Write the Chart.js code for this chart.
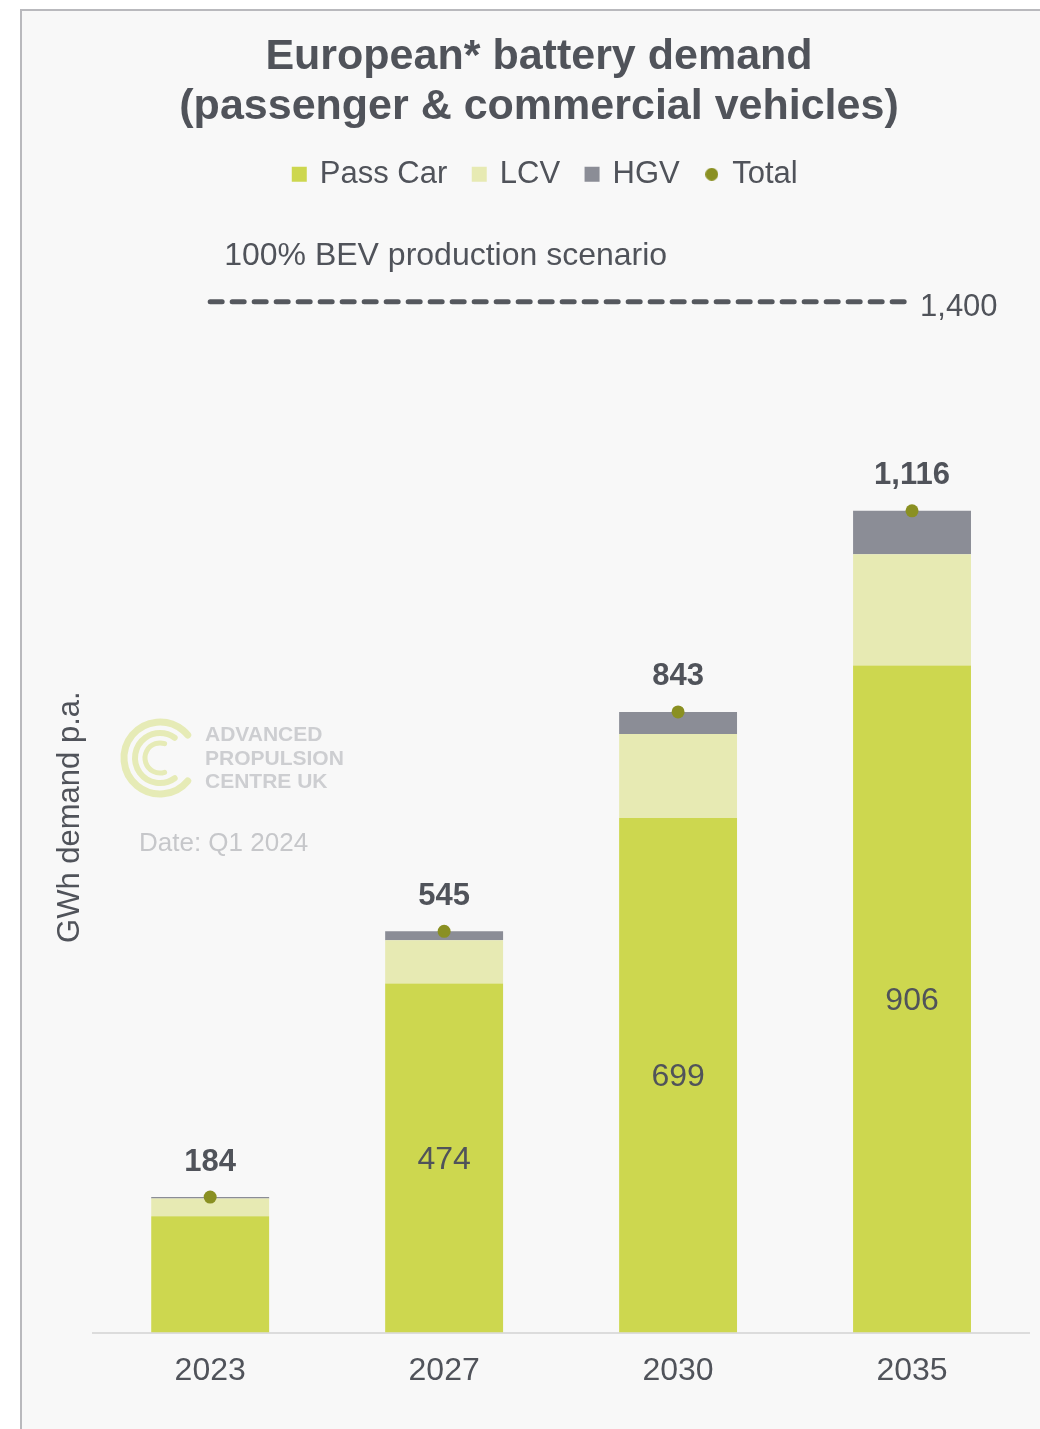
<!DOCTYPE html>
<html>
<head>
<meta charset="utf-8">
<title>European battery demand</title>
<script src="https://cdn.jsdelivr.net/npm/chart.js@4.4.1/dist/chart.umd.min.js"></script>
<style>
  html, body { margin: 0; padding: 0; background: #ffffff; }
  #frame {
    position: absolute; left: 20px; top: 9px; width: 1020px; height: 1420px;
    background: #f8f8f8; border-left: 2px solid #b9b9bd; border-top: 2px solid #b9b9bd;
    box-sizing: border-box;
  }
  #wrap { position: absolute; left: 0; top: 0; width: 1040px; height: 1429px; }
</style>
</head>
<body>
<div id="frame"></div>
<div id="wrap"><canvas id="batteryChart"></canvas></div>
<script>
// data (GWh p.a.)
const years = ['2023', '2027', '2030', '2035'];
const passCar = [158, 474, 699, 906];
const lcv = [24, 59, 114, 151];
const hgv = [2, 12, 30, 59];
const totals = [184, 545, 843, 1116];
const bevScenario = [1400, 1400, 1400, 1400];
const passCarLabels = ['', '474', '699', '906'];
const totalLabels = ['184', '545', '843', '1,116'];

const FONT = '"Liberation Sans", Arial, sans-serif';
const textColor = '#50535a';
const passColor = '#cdd74f';
const lcvColor = '#e7eab3';
const hgvColor = '#8b8d96';
const totalColor = '#8a9022';
const dashColor = '#55585e';

// small round marker for the "Total" legend entry
const dotImage = document.createElement('canvas');
dotImage.width = 13;
dotImage.height = 13;
const dctx = dotImage.getContext('2d');
dctx.fillStyle = totalColor;
dctx.beginPath();
dctx.arc(6.5, 6.5, 6.5, 0, Math.PI * 2);
dctx.fill();

// leave room between legend and plot area, nudge legend a little right
const legendGap = {
  id: 'legendGap',
  beforeLayout(chart) {
    const lg = chart.legend;
    if (lg && !lg._gapPatched) {
      const fit = lg.fit;
      lg.fit = function () { fit.call(this); this.height += 102; };
      lg._gapPatched = true;
    }
  },
  afterLayout(chart) {
    chart.legend.left += 7;
    chart.legend.right += 7;
  }
};

const annotate = {
  id: 'annotate',
  beforeDatasetsDraw(chart) {
    const ctx = chart.ctx;
    ctx.save();
    // faint logo watermark
    ctx.strokeStyle = '#e6ebb6';
    ctx.lineCap = 'round';
    const cx = 160, cy = 758;
    [[36, 7, 0.22, 1.78], [25, 6, 0.3, 1.7], [15, 5, 0.4, 1.6]].forEach(r => {
      ctx.lineWidth = r[1];
      ctx.beginPath();
      ctx.arc(cx, cy, r[0], Math.PI * r[2], Math.PI * r[3]);
      ctx.stroke();
    });
    ctx.fillStyle = '#cdced1';
    ctx.font = 'bold 21px ' + FONT;
    ctx.textAlign = 'left';
    ctx.textBaseline = 'middle';
    ctx.fillText('ADVANCED', 205, 735);
    ctx.fillText('PROPULSION', 205, 759);
    ctx.fillText('CENTRE UK', 205, 782);
    ctx.fillStyle = '#c6c7ca';
    ctx.font = '26px ' + FONT;
    ctx.fillText('Date: Q1 2024', 139, 844);
    ctx.restore();
  },
  afterDatasetsDraw(chart) {
    const {ctx, scales: {x, y}} = chart;
    ctx.save();
    ctx.fillStyle = textColor;
    ctx.textAlign = 'center';
    ctx.textBaseline = 'middle';
    ctx.font = '32px ' + FONT;
    chart.getDatasetMeta(0).data.forEach((bar, i) => {
      if (passCarLabels[i]) ctx.fillText(passCarLabels[i], bar.x, (bar.y + bar.base) / 2 + 2);
    });
    ctx.font = 'bold 31px ' + FONT;
    totals.forEach((v, i) => {
      ctx.fillText(totalLabels[i], x.getPixelForValue(i), y.getPixelForValue(v) - 35);
    });
    const yb = y.getPixelForValue(bevScenario[bevScenario.length - 1]);
    ctx.textAlign = 'left';
    ctx.font = '31px ' + FONT;
    ctx.fillText('1,400', x.getPixelForValue(years.length - 1) + 8, yb + 6);
    ctx.font = '32px ' + FONT;
    ctx.fillText('100% BEV production scenario', x.getPixelForValue(0) + 14, yb - 46);
    ctx.restore();
  }
};

const chart = new Chart(document.getElementById('batteryChart'), {
  type: 'bar',
  data: {
    labels: years,
    datasets: [
      { label: 'Pass Car', data: passCar, backgroundColor: passColor, borderWidth: 0, stack: 'demand', order: 2, pointStyle: 'rect' },
      { label: 'LCV', data: lcv, backgroundColor: lcvColor, borderWidth: 0, stack: 'demand', order: 2, pointStyle: 'rect' },
      { label: 'HGV', data: hgv, backgroundColor: hgvColor, borderWidth: 0, stack: 'demand', order: 2, pointStyle: 'rect' },
      {
        type: 'line', label: 'Total', data: totals, stack: 'total', order: 1,
        showLine: false, pointRadius: 6.5, pointBorderWidth: 0,
        pointBackgroundColor: totalColor, backgroundColor: totalColor, borderColor: totalColor
      },
      {
        type: 'line', label: '100% BEV production scenario', data: bevScenario, stack: 'bev', order: 1,
        borderColor: dashColor, borderWidth: 5, borderDash: [12, 10], borderCapStyle: 'round',
        pointRadius: 0, fill: false, clip: false
      }
    ]
  },
  options: {
    responsive: true,
    maintainAspectRatio: false,
    animation: false,
    barPercentage: 0.504,
    categoryPercentage: 1,
    layout: { padding: { top: 0, left: 49, right: 11, bottom: 20 } },
    plugins: {
      title: {
        display: true,
        text: ['European* battery demand', '(passenger & commercial vehicles)'],
        color: textColor,
        font: { size: 43, weight: 'bold', family: FONT, lineHeight: 1.16 },
        padding: { top: 32, bottom: 0 }
      },
      legend: {
        position: 'top',
        labels: {
          usePointStyle: true,
          boxWidth: 10,
          boxHeight: 15,
          padding: 27,
          color: textColor,
          font: { size: 31, family: FONT },
          filter: item => item.datasetIndex < 4,
          sort: (a, b) => a.datasetIndex - b.datasetIndex,
          generateLabels(c) {
            const items = Chart.defaults.plugins.legend.labels.generateLabels(c);
            items.forEach(it => { it.pointStyle = it.datasetIndex === 3 ? dotImage : 'rect'; });
            return items;
          }
        }
      },
      tooltip: { enabled: false }
    },
    scales: {
      x: {
        stacked: true,
        grid: { display: false, drawTicks: false },
        border: { display: true, color: '#dcdcdc', width: 2 },
        ticks: { color: textColor, font: { size: 32, family: FONT }, padding: 19 }
      },
      y: {
        stacked: true,
        min: 0,
        max: 1400,
        grid: { display: false, drawTicks: false },
        border: { display: false },
        ticks: { display: false },
        title: {
          display: true,
          text: 'GWh demand p.a.',
          color: textColor,
          font: { size: 31, family: FONT },
          padding: { top: 3, bottom: 4 }
        }
      }
    }
  },
  plugins: [legendGap, annotate]
});
</script>
</body>
</html>
